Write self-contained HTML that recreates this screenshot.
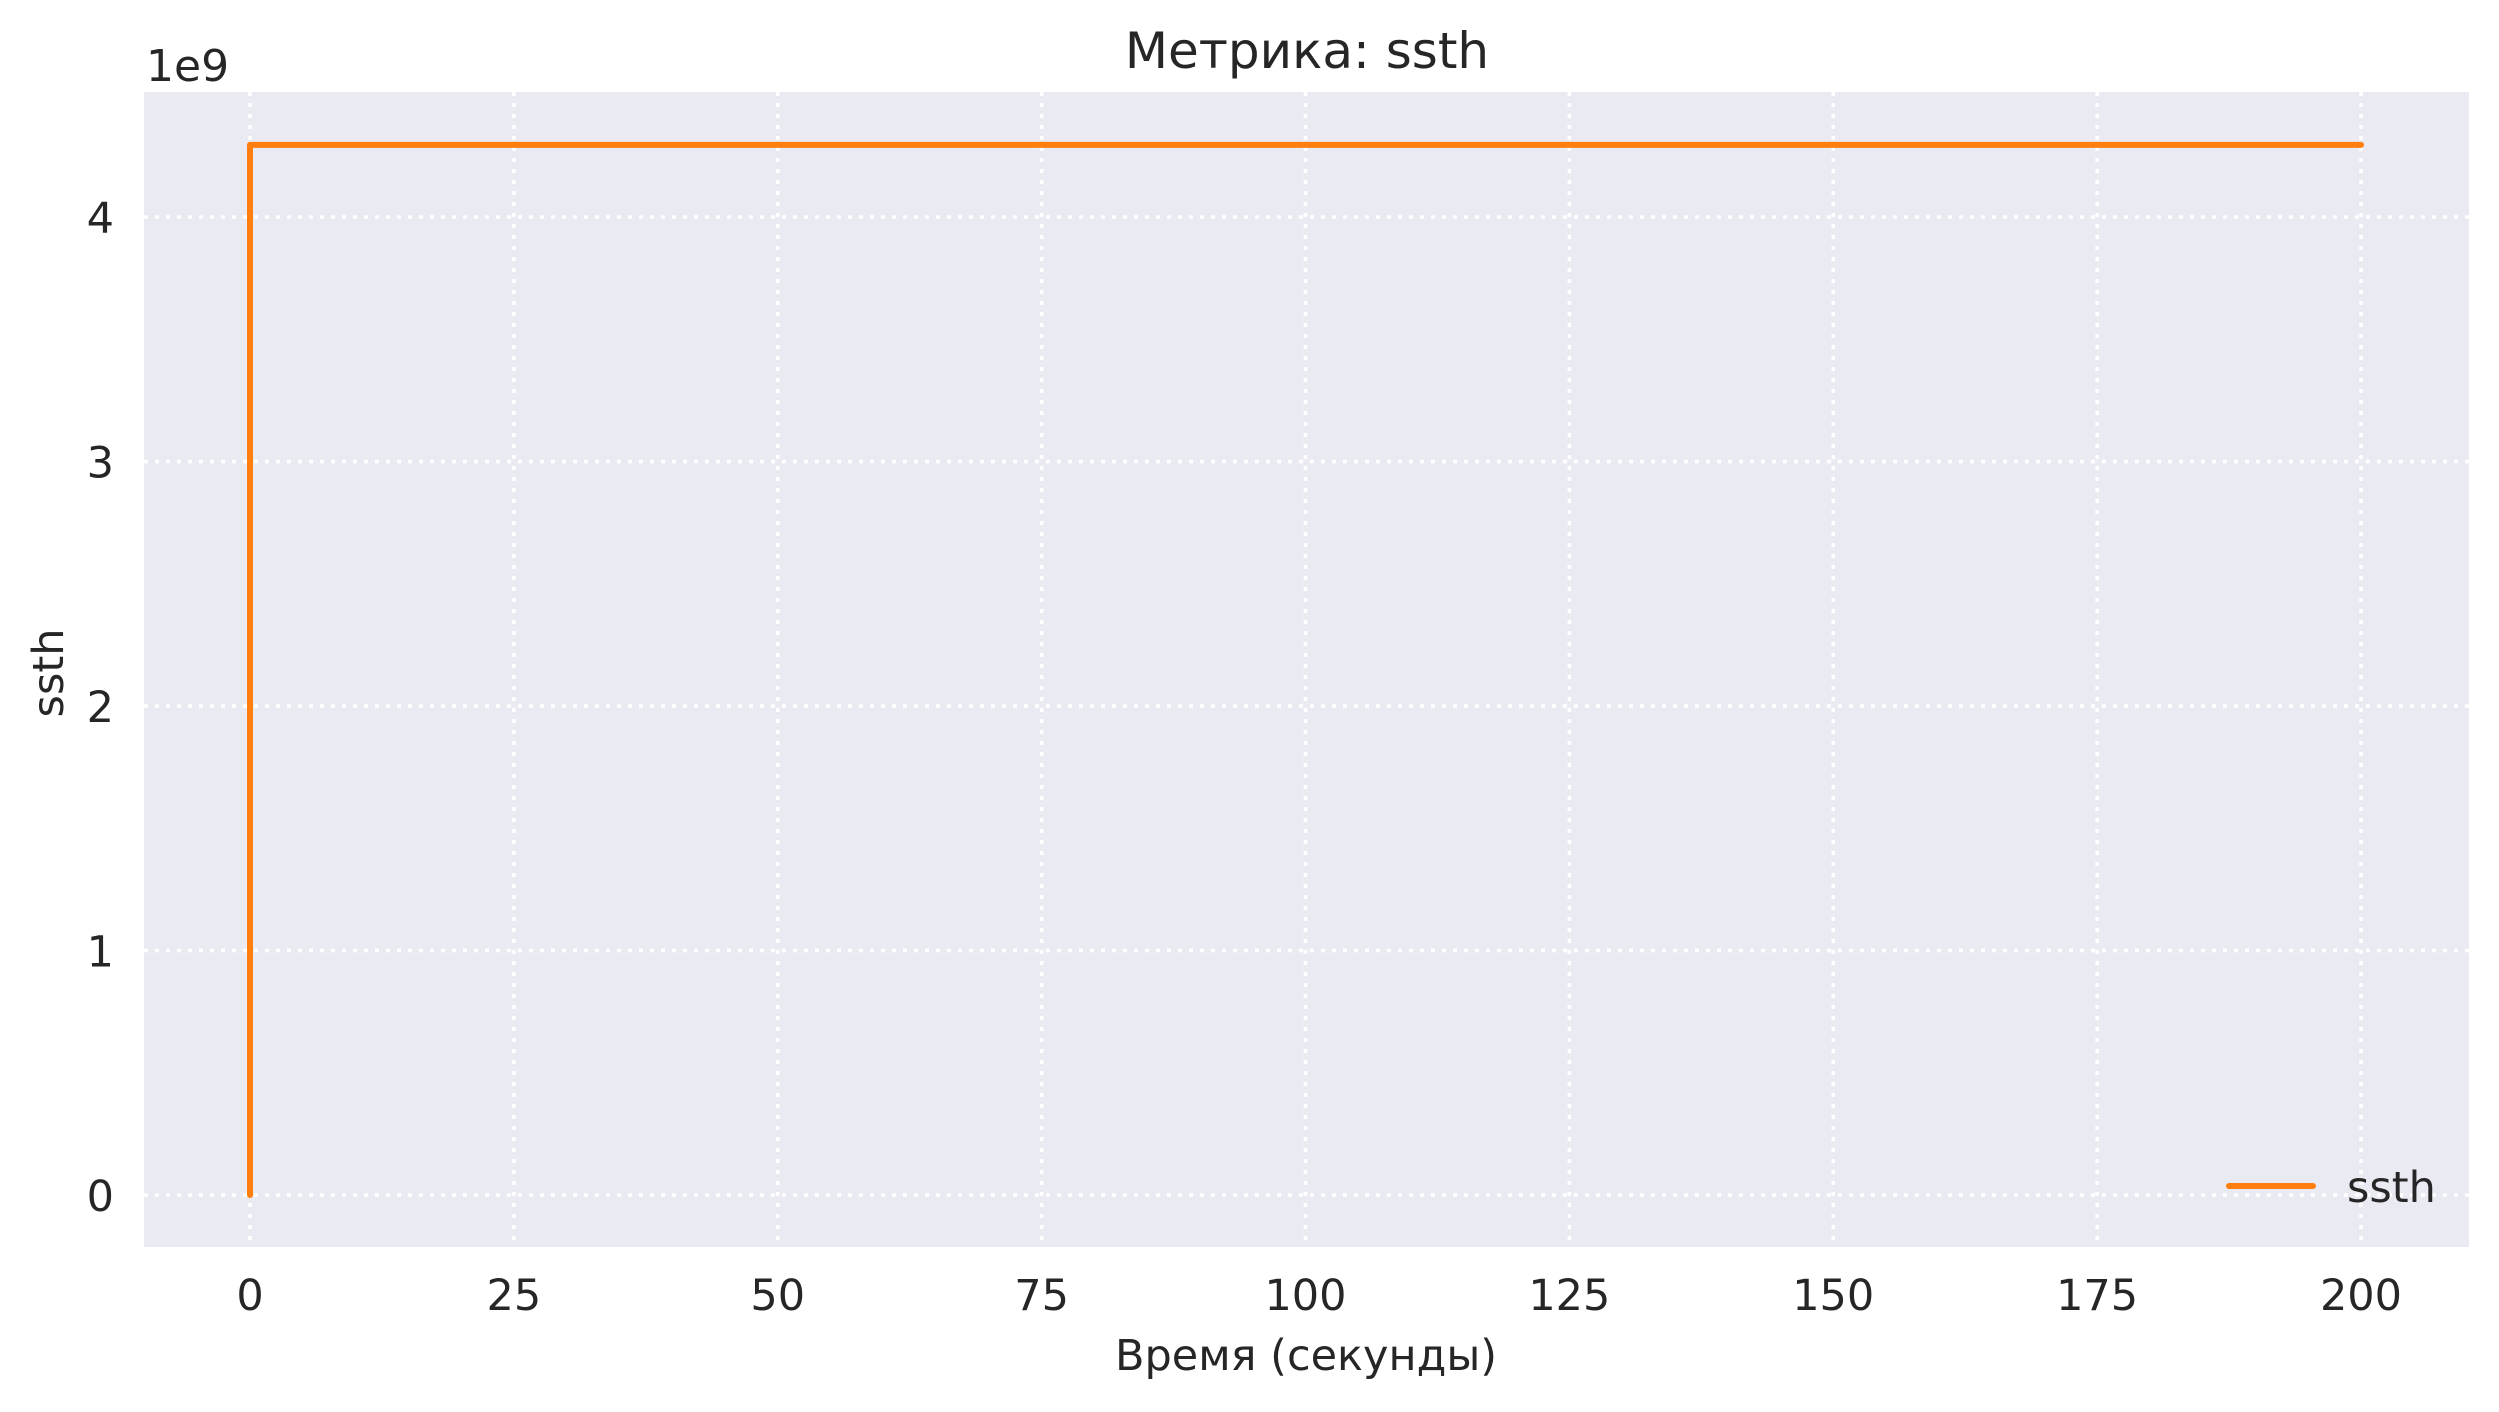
<!DOCTYPE html>
<html><head><meta charset="utf-8"><style>
html,body{margin:0;padding:0;background:#fff;}
svg text{font-family:"DejaVu Sans","Liberation Sans",sans-serif;fill:#262626;}
</style></head><body>
<svg id="chart" width="2499" height="1407" xmlns="http://www.w3.org/2000/svg">
<rect x="144" y="92" width="2325" height="1155" fill="#eaeaf2"/>
<g id="grid"></g>
<g id="ticks"></g>
<g id="series"></g>
<text x="1307" y="68" font-size="50" text-anchor="middle">Метрика: ssth</text>
<text x="1306" y="1370" font-size="43" text-anchor="middle">Время (секунды)</text>
<text transform="translate(63,673) rotate(-90)" font-size="43" text-anchor="middle">ssth</text>
<text x="146" y="81" font-size="44">1e9</text>
<g>
<line x1="2229" y1="1186" x2="2313" y2="1186" stroke="#ff7f0e" stroke-width="6" stroke-linecap="round"/>
<text x="2347" y="1202" font-size="43">ssth</text>
</g>
</svg>
<script>
const xTicks = [0, 25, 50, 75, 100, 125, 150, 175, 200];
const yTicks = [0, 1, 2, 3, 4];
const times = [0, 0, 200];
const values = [0, 4.294967, 4.294967];
const NS = "http://www.w3.org/2000/svg";
const xs = v => 250 + v * (2361 - 250) / 200;
const ys = v => 1195 - v * (1195 - 217) / 4;
const grid = document.getElementById('grid');
const ticks = document.getElementById('ticks');
function mk(tag, attrs, parent){const e=document.createElementNS(NS,tag);for(const k in attrs)e.setAttribute(k,attrs[k]);parent.appendChild(e);return e;}
xTicks.forEach(t=>{
  const l=mk('line',{x1:xs(t),x2:xs(t),y1:92,y2:1247,stroke:'#fff','stroke-width':3.5,'stroke-dasharray':'4,7'},grid);
  
  
  const tx=mk('text',{x:xs(t),y:1310,'font-size':43,'text-anchor':'middle'},ticks);
  tx.textContent=t;
  
  
});
yTicks.forEach(t=>{
  const l=mk('line',{x1:144,x2:2469,y1:ys(t),y2:ys(t),stroke:'#fff','stroke-width':3.5,'stroke-dasharray':'4,7'},grid);
  
  
  const tx=mk('text',{x:114,y:ys(t)+16,'font-size':43,'text-anchor':'end'},ticks);
  tx.textContent=t;
  
  
});
const pts=times.map((t,i)=>xs(t)+','+ys(values[i])).join(' ');
const pl=mk('polyline',{points:pts,fill:'none',stroke:'#ff7f0e','stroke-width':6,'stroke-linecap':'round','stroke-linejoin':'round'},document.getElementById('series'));


</script>
</body></html>
